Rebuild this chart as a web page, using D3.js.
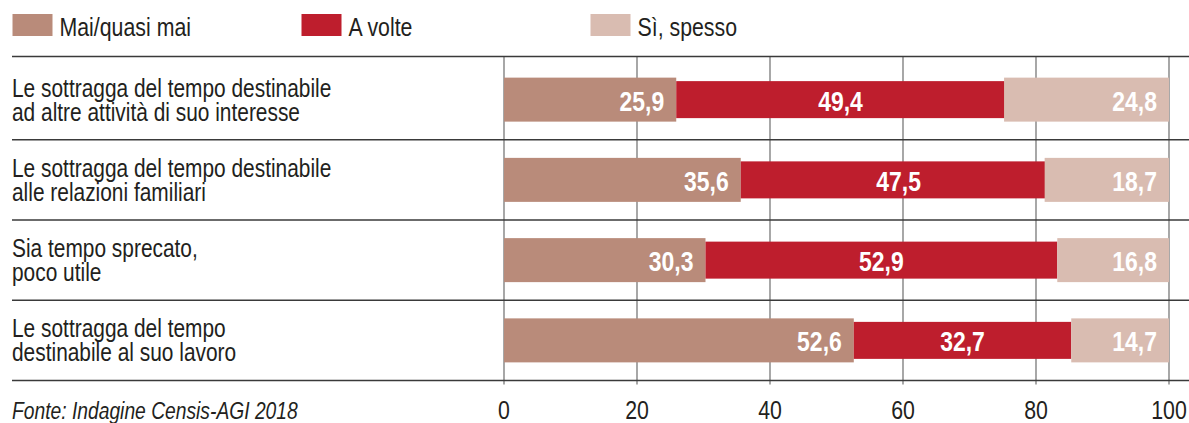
<!DOCTYPE html>
<html>
<head>
<meta charset="utf-8">
<script src="https://cdn.jsdelivr.net/npm/d3@7"></script>
<style>
  html, body { margin: 0; padding: 0; background: #fff; }
  svg { display: block; }
  text { font-family: "Liberation Sans", Arial, sans-serif; fill: #231f20; }
</style>
</head>
<body>
<svg id="chart" width="1189" height="423"></svg>
<script>
// ---- data ----
const categories = [
  "Le sottragga del tempo destinabile\nad altre attività di suo interesse",
  "Le sottragga del tempo destinabile\nalle relazioni familiari",
  "Sia tempo sprecato,\npoco utile",
  "Le sottragga del tempo\ndestinabile al suo lavoro"
];
const seriesNames = ["Mai/quasi mai", "A volte", "Sì, spesso"];
const maiQuasiMai = [25.9, 35.6, 30.3, 52.6];
const aVolte      = [49.4, 47.5, 52.9, 32.7];
const siSpesso    = [24.8, 18.7, 16.8, 14.7];
const tickValues  = [0, 20, 40, 60, 80, 100];
const sourceNote  = "Fonte: Indagine Censis-AGI 2018";

// ---- style ----
const colors = ["#b98b7a", "#be1e2d", "#d9bcb1"];
const barHeights = [44, 37, 44];
const NARROW = 0.82; // horizontal condensing of the sans font
const place = (x, y) => `translate(${x},${y}) scale(${NARROW},1)`;

const svg = d3.select("#chart");
const W = 1189;
const left = 12, topLine = 56.5;

const x = d3.scaleLinear().domain([0, 100]).range([504, 1169]);
const y = d3.scaleBand().domain(categories).range([59.5, 380.5]).paddingInner(0);
const fmt = v => d3.format(".1f")(v).replace(".", ",");

// gridlines
svg.append("g").selectAll("line").data(tickValues).join("line")
  .attr("x1", d => x(d)).attr("x2", d => x(d))
  .attr("y1", topLine).attr("y2", y.range()[1] + 4)
  .attr("stroke", "#6d6d6d").attr("stroke-width", 1.2);

// top line
svg.append("line").attr("x1", left).attr("x2", W).attr("y1", topLine).attr("y2", topLine)
  .attr("stroke", "#3a3a3a").attr("stroke-width", 1.4);

// row separators
svg.append("g").selectAll("line").data(categories).join("line")
  .attr("x1", left).attr("x2", W)
  .attr("y1", d => y(d) + y.bandwidth()).attr("y2", d => y(d) + y.bandwidth())
  .attr("stroke", "#3a3a3a").attr("stroke-width", 1.4);

// segments
const rows = categories.map((c, i) => {
  const v = [maiQuasiMai[i], aVolte[i], siSpesso[i]];
  return [
    { c, s: 0, v: v[0], x0: 0, x1: v[0] },
    { c, s: 1, v: v[1], x0: v[0], x1: v[0] + v[1] },
    { c, s: 2, v: v[2], x0: 100 - v[2], x1: 100 }
  ];
});
const segs = [0, 1, 2].flatMap(s => rows.map(r => r[s]));

svg.append("g").selectAll("rect").data(segs).join("rect")
  .attr("x", d => x(d.x0))
  .attr("width", d => x(d.x1) - x(d.x0))
  .attr("y", d => y(d.c) + y.bandwidth() / 2 - barHeights[d.s] / 2)
  .attr("height", d => barHeights[d.s])
  .attr("fill", d => colors[d.s]);

// value labels
svg.append("g").selectAll("text").data(segs).join("text")
  .attr("transform", d => place(
    d.s === 1 ? (x(d.x0) + x(d.x1)) / 2 : x(d.x1) - 12,
    y(d.c) + y.bandwidth() / 2 + 11))
  .attr("text-anchor", d => d.s === 1 ? "middle" : "end")
  .style("font-weight", "bold").style("font-size", "28px").style("fill", "#fff")
  .text(d => fmt(d.v));

// category labels
const cl = svg.append("g").selectAll("text").data(categories).join("text")
  .attr("transform", d => place(left, y(d) + y.bandwidth() / 2 - 3))
  .style("font-size", "25.5px");
cl.selectAll("tspan").data(d => d.split("\n")).join("tspan")
  .attr("x", 0).attr("dy", (d, i) => i === 0 ? 0 : 24).text(d => d);

// axis tick labels
svg.append("g").selectAll("text").data(tickValues).join("text")
  .attr("transform", d => place(x(d), 418.5))
  .attr("text-anchor", "middle").style("font-size", "26px")
  .text(d => d);

// source
svg.append("text").attr("transform", place(left, 418.5))
  .style("font-style", "italic").style("font-size", "23.5px")
  .text(sourceNote);

// legend
const lg = svg.append("g").selectAll("g").data(seriesNames).join("g")
  .attr("transform", (d, i) => `translate(${12.5 + i * 289},0)`);
lg.append("rect").attr("x", 0).attr("y", 14).attr("width", 40).attr("height", 22)
  .attr("fill", (d, i) => colors[i]);
lg.append("text").attr("transform", place(47, 36)).style("font-size", "26px").text(d => d);
</script>
</body>
</html>
